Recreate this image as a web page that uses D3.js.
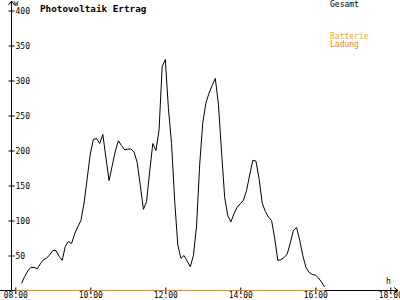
<!DOCTYPE html>
<html>
<head>
<meta charset="utf-8">
<script src="https://cdn.jsdelivr.net/npm/d3@7"></script>
<style>
  body { margin: 0; background: #fff; }
  svg text { font-family: "DejaVu Sans Mono", monospace; }
</style>
</head>
<body>
<svg width="400" height="300"></svg>
<script>
// minutes after 08:00, every 5 minutes from 08:10
const startMinute = 10;
const stepMinutes = 5;
const gesamt = [
  10, 20, 28, 33, 33, 31, 38, 44, 46, 51, 57, 57, 49, 43, 63, 70, 67, 81, 91, 100,
  125, 160, 195, 216, 217, 210, 223, 190, 157, 178, 199, 214, 207, 201, 202, 202, 198, 183, 150, 116,
  127, 170, 210, 200, 229, 320, 330, 260, 210, 128, 65, 46, 50, 42, 34, 50, 92, 180, 240, 268,
  282, 293, 303, 266, 198, 133, 107, 98, 110, 119, 124, 129, 143, 165, 186, 185, 160, 125, 113, 105,
  100, 75, 43, 44, 47, 52, 68, 86, 90, 72, 50, 33, 26, 23, 22, 18, 12, 5
];
const batterieHours = [8, 16.25];
const batterieValues = [0, 0];
const xTicks = [8, 10, 12, 14, 16, 18];
const yTicks = [50, 100, 150, 200, 250, 300, 350, 400];

const svg = d3.select("svg");
const x = d3.scaleLinear().domain([8, 18]).range([15.3, 390.3]);
const y = d3.scaleLinear().domain([0, 400]).range([290.5, 10.5]);
const axisX = 11.5;

const pts = gesamt.map((v, i) => ({h: 8 + (startMinute + i * stepMinutes) / 60, v: v}));
const line = d3.line().x(d => x(d.h)).y(d => y(d.v));

// y axis line with arrow
svg.append("line").attr("x1", axisX).attr("x2", axisX).attr("y1", 1).attr("y2", 291)
  .attr("stroke", "#000");
svg.append("path").attr("d", `M${axisX - 3},5 L${axisX},1 L${axisX + 3},5`)
  .attr("fill", "none").attr("stroke", "#000");

// x axis line with arrow
svg.append("line").attr("x1", 0).attr("x2", 398).attr("y1", 290.5).attr("y2", 290.5)
  .attr("stroke", "#000");
svg.append("path").attr("d", "M394,287.5 L398,290.5 L394,293.5")
  .attr("fill", "none").attr("stroke", "#000");

// y ticks
const gy = svg.append("g").attr("transform", `translate(${axisX},0)`)
  .call(d3.axisRight(y).tickValues(yTicks).tickSize(3).tickFormat(d3.format("d")));
gy.select(".domain").remove();
gy.selectAll(".tick line").attr("x1", -3).attr("x2", 3).attr("stroke", "#000");
gy.selectAll(".tick text").attr("x", 4).attr("font-size", 8)
  .attr("font-family", "DejaVu Sans Mono").attr("fill", "#000");

// x ticks
const gx = svg.append("g").attr("transform", "translate(0,290.5)")
  .call(d3.axisBottom(x).tickValues(xTicks).tickSize(3)
    .tickFormat(d => d3.format("02d")(d) + ":00"));
gx.select(".domain").remove();
gx.selectAll(".tick line").attr("y1", -3).attr("y2", 3).attr("stroke", "#000");
gx.selectAll(".tick text").attr("y", 2).attr("font-size", 8)
  .attr("font-family", "DejaVu Sans Mono").attr("fill", "#000");

// batterie ladung on zero line
svg.append("path")
  .datum(batterieHours.map((h, i) => ({h: h, v: batterieValues[i]})))
  .attr("d", line).attr("fill", "none").attr("stroke", "#ff8000").attr("stroke-width", 1.2);

// gesamt
svg.append("path").datum(pts).attr("d", line)
  .attr("fill", "none").attr("stroke", "#000").attr("stroke-width", 1);

// labels
svg.append("text").attr("x", 14).attr("y", 6).attr("font-size", 7).text("W");
svg.append("text").attr("x", 386).attr("y", 284).attr("font-size", 8).text("h");
svg.append("text").attr("x", 40).attr("y", 11.5).attr("font-size", 9.3)
  .attr("font-weight", "bold").text("Photovoltaik Ertrag");
svg.append("text").attr("x", 330).attr("y", 7).attr("font-size", 8).text("Gesamt");
svg.append("text").attr("x", 330).attr("y", 39).attr("font-size", 8)
  .attr("fill", "#ffa800").text("Batterie");
svg.append("text").attr("x", 330).attr("y", 46.5).attr("font-size", 8)
  .attr("fill", "#ff8000").text("Ladung");
</script>
</body>
</html>
